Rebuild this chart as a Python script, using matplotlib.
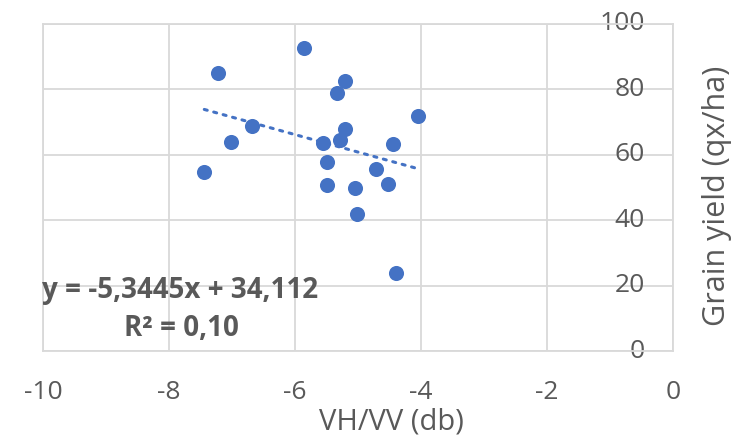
import matplotlib
matplotlib.use("Agg")
import matplotlib.pyplot as plt
import numpy as np

vh_vv = [-5.85, -7.23, -5.21, -5.33, -6.69, -7.02, -5.20, -5.29, -5.56, -5.50,
         -7.44, -5.50, -5.05, -5.02, -4.05, -4.44, -4.72, -4.53, -4.40]
grain_yield = [92.8, 85.1, 82.5, 78.8, 68.9, 64.0, 67.8, 64.5, 63.5, 57.7,
               54.6, 50.8, 49.7, 41.9, 71.9, 63.2, 55.7, 51.1, 23.9]
slope = -5.3445
intercept = 34.112
eq_text = "y = -5,3445x + 34,112"
r2_text = "R² = 0,10"
x_ticks = [-10, -8, -6, -4, -2, 0]
y_ticks = [0, 20, 40, 60, 80, 100]

gray = "#595959"
grid = "#d9d9d9"
blue = "#4472c4"
font = "Open Sans"
fs = 19
fs_title = 21

fig = plt.figure(figsize=(7.36, 4.36), dpi=100)
ax = fig.add_axes([43/736, 1 - 351/436, (673-43)/736, (351-24)/436])
ax.set_xlim(-10, 0)
ax.set_ylim(0, 100)

ax.scatter(vh_vv, grain_yield, s=118, color=blue, zorder=3, linewidths=0)
xs = np.array([min(vh_vv), max(vh_vv)])
ax.plot(xs, slope * xs + intercept, color=blue, linestyle=(0, (1, 2.2)),
        linewidth=2.2, dash_capstyle="round", zorder=2)

ax.set_xticks(x_ticks)
ax.set_yticks(y_ticks)
ax.grid(True, color=grid, linewidth=1.3, zorder=0)
ax.set_axisbelow(True)
for sp in ax.spines.values():
    sp.set_color(grid)
    sp.set_linewidth(1.3)
ax.tick_params(length=0)
ax.set_xticklabels([str(t) for t in x_ticks], fontsize=fs, color=gray, fontfamily=font)
ax.tick_params(axis="x", pad=21)
ax.set_yticklabels([])
for t in y_ticks:
    ax.text(-0.45, t, str(t), ha="right", va="center", fontsize=fs, color=gray,
            fontfamily=font, zorder=1)

fig.text(391/736, 1 - 422/436, "VH/VV (db)", ha="center", va="center",
         fontsize=fs_title, color=gray, fontfamily=font)
fig.text(717/736, 1 - 196/436, "Grain yield (qx/ha)", ha="center", va="center",
         rotation=90, fontsize=fs_title + 1, color=gray, fontfamily=font)

ax.text(-10.02, 18.6, eq_text, ha="left", va="center", fontsize=fs + 1,
        fontweight="bold", color=gray, fontfamily=font, zorder=4)
ax.text(-7.81, 7.0, r2_text, ha="center", va="center", fontsize=fs + 1,
        fontweight="bold", color=gray, fontfamily=font, zorder=4)

fig.savefig("out.png", dpi=100)
